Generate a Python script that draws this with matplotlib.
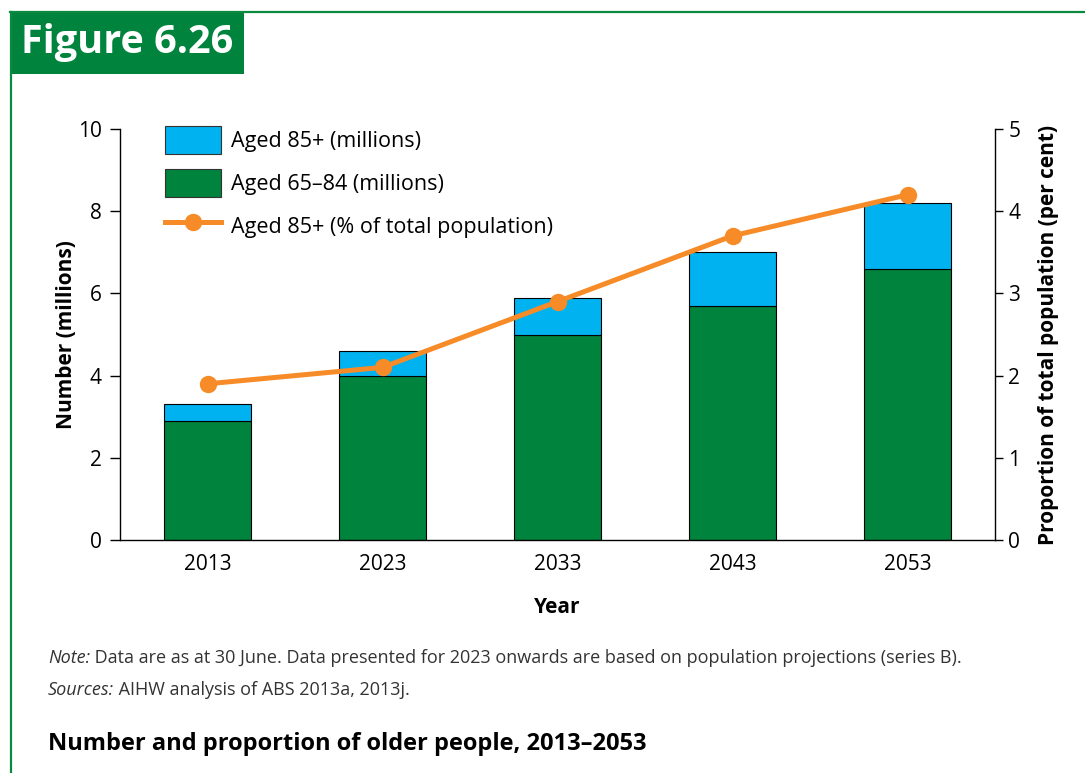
import matplotlib
matplotlib.use("Agg")
import matplotlib.pyplot as plt
from matplotlib.patches import Rectangle, Patch
from matplotlib.lines import Line2D
from matplotlib import font_manager

years = ["2013", "2023", "2033", "2043", "2053"]
aged_65_84 = [2.9, 4.0, 5.0, 5.7, 6.6]
aged_85_plus = [0.4, 0.6, 0.9, 1.3, 1.6]
pct_85_plus = [1.9, 2.1, 2.9, 3.7, 4.2]

GREEN = "#00843D"
BLUE = "#00B2EF"
ORANGE = "#F68B28"
FRAME = "#0A8A3E"

names = {f.name for f in font_manager.fontManager.ttflist}
BASE = "Open Sans" if "Open Sans" in names else "DejaVu Sans"
plt.rcParams["font.family"] = [BASE, "DejaVu Sans"]

W, H = 1085, 773
fig = plt.figure(figsize=(W / 100, H / 100), dpi=100)

def fx(px):
    return px / W

def fy(py):
    return 1 - py / H

FS = 15

# Frame lines and title box
fig.add_artist(Line2D([fx(10), 1.0], [fy(11.5), fy(11.5)], color=FRAME, lw=1.6, transform=fig.transFigure))
fig.add_artist(Line2D([fx(10.5), fx(10.5)], [fy(11.5), 0], color=FRAME, lw=1.6, transform=fig.transFigure))
fig.add_artist(Rectangle((fx(10), fy(74)), fx(244) - fx(10), fy(11) - fy(74),
                         facecolor=GREEN, edgecolor="none", transform=fig.transFigure))
fig.text(fx(21), fy(43), "Figure 6.26", color="white", fontsize=28.5, fontweight="bold",
         ha="left", va="center")

ax = fig.add_axes([fx(120), fy(540), fx(995) - fx(120), fy(129) - fy(540)])
x = list(range(len(years)))
ax.bar(x, aged_65_84, width=0.5, color=GREEN, edgecolor="black", linewidth=0.8, zorder=2)
ax.bar(x, aged_85_plus, bottom=aged_65_84, width=0.5, color=BLUE, edgecolor="black",
       linewidth=0.8, zorder=2)
ax.set_xlim(-0.5, len(years) - 0.5)
ax.set_ylim(0, 10)
ax.set_yticks([0, 2, 4, 6, 8, 10])
ax.set_xticks(x)
ax.set_xticklabels(years)
ax.tick_params(axis="x", length=0, pad=10, labelsize=FS)
ax.tick_params(axis="y", direction="out", length=7, width=1, pad=6, labelsize=FS)
ax.spines["top"].set_visible(False)
ax.spines["right"].set_visible(False)
for s in ["left", "bottom"]:
    ax.spines[s].set_linewidth(1)
ax.set_ylabel("Number (millions)", fontsize=FS, fontweight="bold", labelpad=1)
ax.set_xlabel("Year", fontsize=FS, fontweight="bold", labelpad=16)

ax2 = ax.twinx()
ax2.set_ylim(0, 5)
ax2.set_yticks([0, 1, 2, 3, 4, 5])
ax2.plot(x, pct_85_plus, color=ORANGE, lw=3.6, marker="o", markersize=11.5, zorder=5,
         solid_capstyle="butt")
ax2.spines["top"].set_visible(False)
ax2.spines["left"].set_visible(False)
ax2.spines["bottom"].set_visible(False)
ax2.spines["right"].set_linewidth(1)
ax2.tick_params(axis="y", direction="out", length=6, width=1, pad=3.5, labelsize=FS)
ax2.set_ylabel("Proportion of total population (per cent)", fontsize=FS, fontweight="bold",
               labelpad=13)

handles = [
    Patch(facecolor=BLUE, edgecolor="#333333", linewidth=0.8),
    Patch(facecolor=GREEN, edgecolor="#333333", linewidth=0.8),
    Line2D([], [], color=ORANGE, lw=3.6, marker="o", markersize=11.5),
]
labels = ["Aged 85+ (millions)", "Aged 65\u201384 (millions)", "Aged 85+ (% of total population)"]
LFS = 15.5
lpx = LFS * 100 / 72
fig.legend(handles, labels, loc="upper left", bbox_to_anchor=(fx(165), fy(126)),
           frameon=False, fontsize=LFS, handlelength=56 / lpx, handleheight=1.62,
           labelspacing=(44 - 29) / lpx, handletextpad=10 / lpx, borderpad=0, borderaxespad=0,
           numpoints=1)

# Notes
NFS = 13
t1 = fig.text(fx(48), fy(658), "Note:", fontsize=NFS, style="italic", color="#333333",
              ha="left", va="center")
t2 = fig.text(fx(48), fy(690), "Sources:", fontsize=NFS, style="italic", color="#333333",
              ha="left", va="center")
fig.canvas.draw()
r = fig.canvas.get_renderer()
for t, s, yy in [(t1, " Data are as at 30 June. Data presented for 2023 onwards are based on population projections (series B).", 658),
                 (t2, " AIHW analysis of ABS 2013a, 2013j.", 690)]:
    bb = t.get_window_extent(r)
    fig.text(bb.x1 / W, fy(yy), s, fontsize=NFS, color="#333333", ha="left", va="center")

fig.text(fx(48), fy(744), "Number and proportion of older people, 2013\u20132053", fontsize=17,
         fontweight="bold", color="black", ha="left", va="center")

fig.savefig("out.png", dpi=100)
